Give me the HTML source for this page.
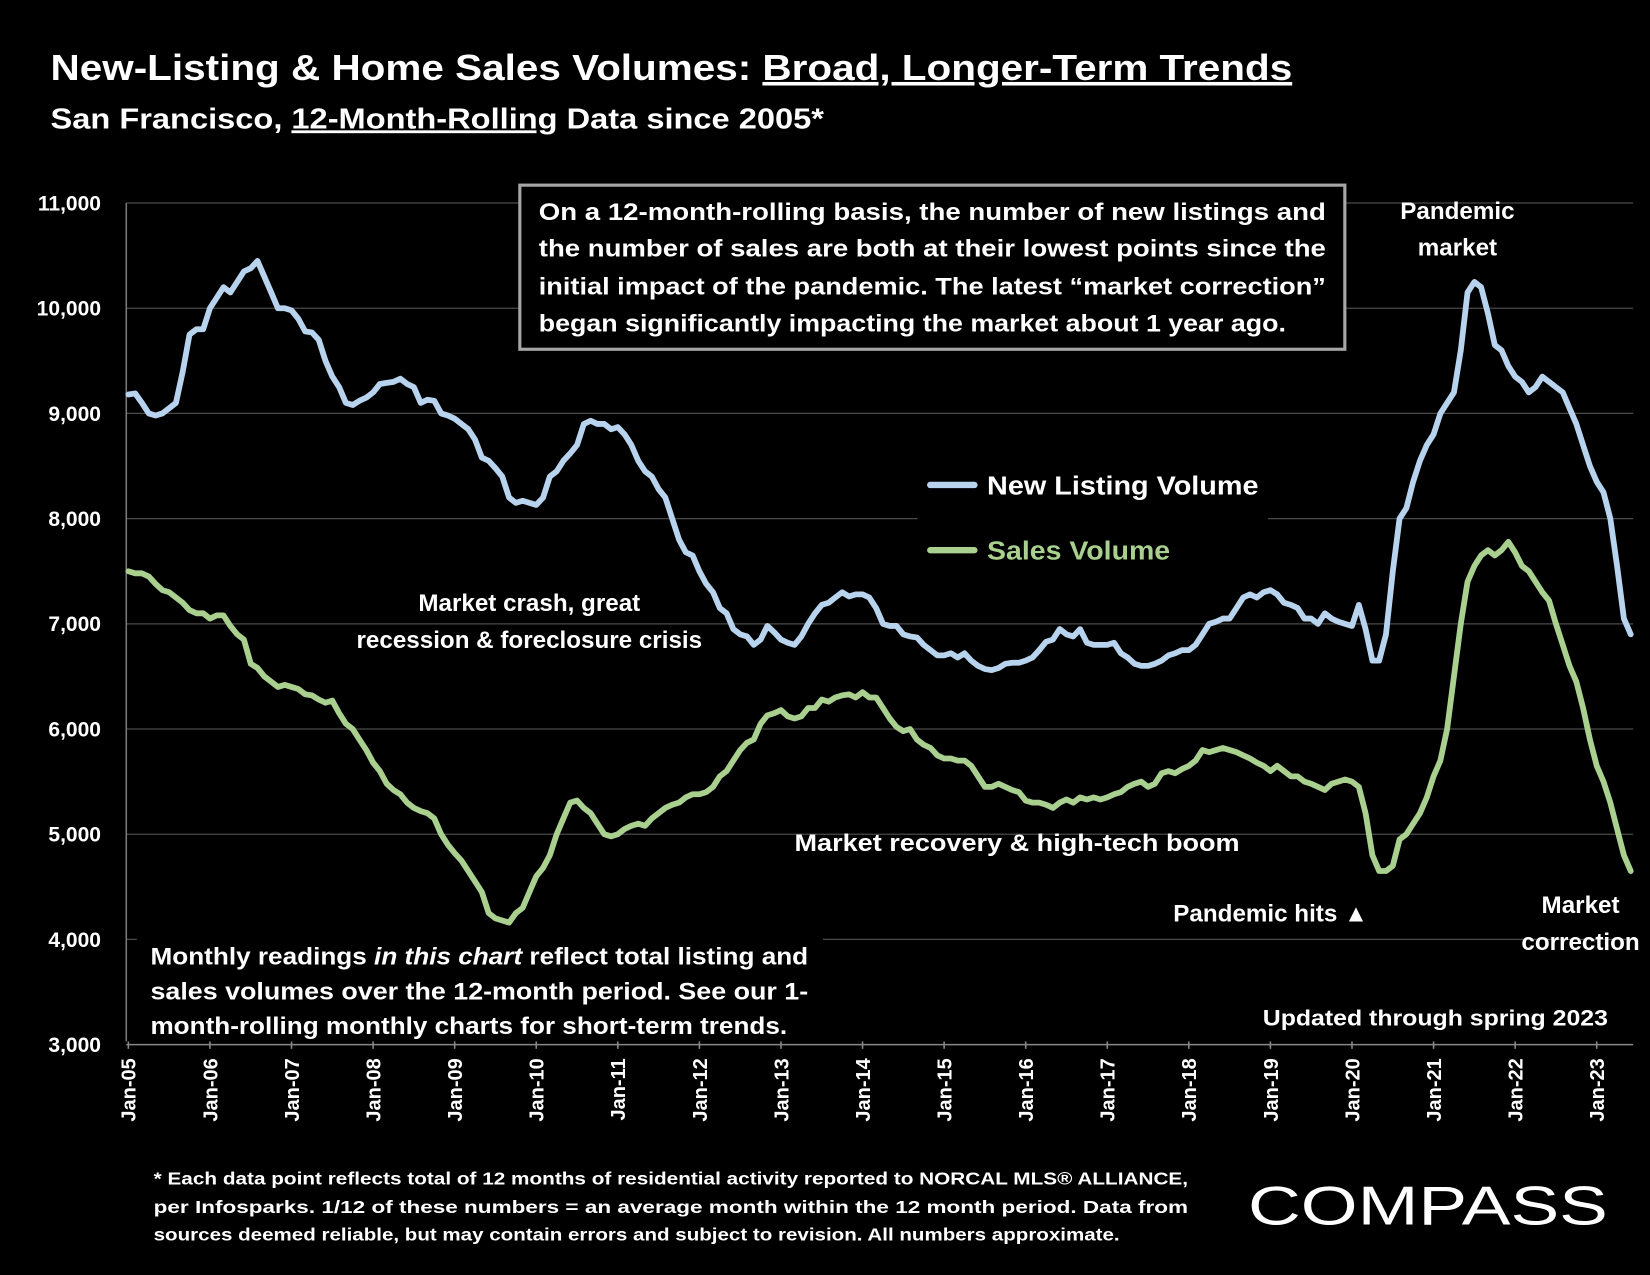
<!DOCTYPE html>
<html><head><meta charset="utf-8">
<style>
html,body{margin:0;padding:0;background:#000;}
svg{display:block;}
text{font-family:"Liberation Sans",sans-serif;font-weight:bold;fill:#fff;}
</style></head>
<body>
<svg id="chart" width="1650" height="1275" viewBox="0 0 1568 1212" preserveAspectRatio="none">
<rect x="0" y="0" width="1568" height="1212" fill="#000"/>
<text x="48" y="76" font-size="34" textLength="1180" lengthAdjust="spacingAndGlyphs">New-Listing &amp; Home Sales Volumes: <tspan text-decoration="underline">Broad, Longer-Term Trends</tspan></text>
<text x="48" y="122" font-size="27" textLength="735" lengthAdjust="spacingAndGlyphs">San Francisco, <tspan text-decoration="underline">12-Month-Rolling</tspan> Data since 2005*</text>
<g id="grid"></g>
<g id="yticks"></g>
<g id="xticks"></g>
<g id="series"></g>

<g>
<rect x="494" y="176" width="784" height="156" fill="#000" stroke="#a6a6a6" stroke-width="3"/>
<text x="512" y="209" font-size="23" textLength="748" lengthAdjust="spacingAndGlyphs">On a 12-month-rolling basis, the number of new listings and</text>
<text x="512" y="244" font-size="23" textLength="748" lengthAdjust="spacingAndGlyphs">the number of sales are both at their lowest points since the</text>
<text x="512" y="280" font-size="23" textLength="748" lengthAdjust="spacingAndGlyphs">initial impact of the pandemic. The latest “market correction”</text>
<text x="512" y="315" font-size="23" textLength="710" lengthAdjust="spacingAndGlyphs">began significantly impacting the market about 1 year ago.</text>
</g>
<text x="1385" y="208" font-size="23" text-anchor="middle">Pandemic</text>
<text x="1385" y="243" font-size="23" text-anchor="middle">market</text>

<g>
<rect x="872" y="436" width="333" height="120" fill="#000"/>
<line x1="884" y1="461" x2="926" y2="461" stroke="#b8d3ee" stroke-width="6" stroke-linecap="round"/>
<text x="938" y="470" font-size="25" fill="#eef1f8" textLength="258" lengthAdjust="spacingAndGlyphs">New Listing Volume</text>
<line x1="884" y1="523" x2="926" y2="523" stroke="#a9d08e" stroke-width="6" stroke-linecap="round"/>
<text x="938" y="532" font-size="25" style="fill:#a9d08e" textLength="174" lengthAdjust="spacingAndGlyphs">Sales Volume</text>
</g>

<text x="503" y="581" font-size="23" text-anchor="middle">Market crash,  great</text>
<text x="503" y="616" font-size="23" text-anchor="middle">recession &amp; foreclosure crisis</text>
<text x="755" y="809" font-size="23" textLength="423" lengthAdjust="spacingAndGlyphs">Market recovery &amp; high-tech boom</text>
<text x="1115" y="876" font-size="23">Pandemic hits ▲</text>
<text x="1502" y="868" font-size="23" text-anchor="middle">Market</text>
<text x="1502" y="903" font-size="23" text-anchor="middle">correction</text>

<g>
<rect x="130" y="890" width="652" height="99" fill="#000"/>
<text x="143" y="917" font-size="22.5" textLength="625" lengthAdjust="spacingAndGlyphs">Monthly readings <tspan font-style="italic">in this chart</tspan> reflect total listing and</text>
<text x="143" y="950" font-size="22.5" textLength="625" lengthAdjust="spacingAndGlyphs">sales volumes over the 12-month period. See our 1-</text>
<text x="143" y="983" font-size="22.5" textLength="605" lengthAdjust="spacingAndGlyphs">month-rolling monthly charts for short-term trends.</text>
</g>
<text x="1200" y="975" font-size="21" textLength="328" lengthAdjust="spacingAndGlyphs">Updated through spring 2023</text>

<g>
<text x="146" y="1126" font-size="17" textLength="983" lengthAdjust="spacingAndGlyphs">* Each data point reflects total of 12 months of residential activity reported to NORCAL MLS® ALLIANCE,</text>
<text x="146" y="1153" font-size="17" textLength="983" lengthAdjust="spacingAndGlyphs">per Infosparks. 1/12 of these numbers = an average month within the 12 month period. Data from</text>
<text x="146" y="1179" font-size="17" textLength="918" lengthAdjust="spacingAndGlyphs">sources deemed reliable, but may contain errors and subject to revision. All numbers approximate.</text>
</g>
<text x="1186" y="1164" font-size="52" style="font-weight:normal" textLength="342" lengthAdjust="spacingAndGlyphs">COMPASS</text>
</svg>
<script>
const yTicks = [3000,4000,5000,6000,7000,8000,9000,10000,11000];
const xTickLabels = ["Jan-05","Jan-06","Jan-07","Jan-08","Jan-09","Jan-10","Jan-11","Jan-12","Jan-13","Jan-14","Jan-15","Jan-16","Jan-17","Jan-18","Jan-19","Jan-20","Jan-21","Jan-22","Jan-23"];
const newListings = [
9180,9190,9100,9000,8980,9000,9050,9100,9400,9750,9800,9800,
10000,10100,10200,10150,10250,10350,10380,10450,10300,10150,10000,10000,
9980,9900,9780,9770,9700,9500,9350,9250,9100,9080,9120,9150,
9200,9280,9290,9300,9330,9280,9250,9100,9130,9120,9000,8980,
8950,8900,8850,8750,8580,8550,8480,8400,8200,8150,8170,8150,
8130,8200,8400,8450,8550,8620,8700,8900,8930,8900,8900,8850,
8870,8800,8700,8550,8450,8400,8280,8200,8000,7800,7680,7650,
7500,7380,7300,7150,7100,6950,6900,6880,6800,6850,6980,6920,
6850,6820,6800,6880,7000,7100,7180,7200,7250,7300,7260,7280,
7280,7250,7150,7000,6980,6980,6900,6880,6870,6800,6750,6700,
6700,6720,6680,6720,6650,6600,6570,6560,6580,6620,6630,6630,
6650,6680,6750,6830,6850,6950,6900,6880,6950,6820,6800,6800,
6800,6820,6720,6680,6620,6600,6600,6620,6650,6700,6720,6750,
6750,6800,6900,7000,7020,7050,7050,7150,7250,7280,7250,7300,
7320,7280,7200,7180,7150,7050,7050,7000,7100,7050,7020,7000,
6980,7180,6950,6650,6650,6900,7500,8000,8100,8350,8550,8700,
8800,9000,9100,9200,9600,10150,10250,10200,9950,9650,9600,9450,
9350,9300,9200,9250,9350,9300,9250,9200,9050,8900,8700,8500,
8350,8250,8000,7550,7050,6900];
const salesVolume = [
7500,7480,7480,7450,7380,7320,7300,7250,7200,7130,7100,7100,
7050,7080,7080,6980,6900,6850,6620,6580,6500,6450,6400,6420,
6400,6380,6330,6320,6280,6250,6270,6150,6050,6000,5900,5800,
5680,5600,5480,5420,5380,5300,5250,5220,5200,5150,5000,4900,
4820,4750,4650,4550,4450,4250,4200,4180,4160,4250,4300,4450,
4600,4680,4800,5000,5150,5300,5320,5250,5200,5100,5000,4980,
5000,5050,5080,5100,5080,5150,5200,5250,5280,5300,5350,5380,
5380,5400,5450,5550,5600,5700,5800,5870,5900,6050,6130,6150,
6180,6120,6100,6120,6200,6200,6280,6260,6300,6320,6330,6300,
6350,6300,6300,6200,6100,6020,5980,6000,5900,5850,5820,5750,
5720,5720,5700,5700,5650,5550,5450,5450,5480,5450,5420,5400,
5320,5300,5300,5280,5250,5300,5330,5300,5350,5330,5350,5330,
5350,5380,5400,5450,5480,5500,5450,5480,5580,5600,5580,5620,
5650,5700,5800,5780,5800,5820,5800,5780,5750,5720,5680,5650,
5600,5650,5600,5550,5550,5500,5480,5450,5420,5480,5500,5520,
5500,5450,5200,4800,4650,4650,4700,4950,5000,5100,5200,5350,
5550,5700,6000,6500,7000,7400,7550,7650,7700,7650,7700,7780,
7680,7550,7500,7400,7300,7220,7000,6800,6600,6450,6200,5900,
5650,5500,5300,5050,4800,4650];

const NS = "http://www.w3.org/2000/svg";
const X0 = 122, PER_MONTH = 6.46, Y_TOP = 193, Y_MAX = 11000, PX_PER_UNIT = 0.1;
function xScale(i){ return X0 + i*PER_MONTH; }
function yScale(v){ return Y_TOP + (Y_MAX - v)*PX_PER_UNIT; }
function mk(tag, attrs){ const e=document.createElementNS(NS,tag); for(const k in attrs) e.setAttribute(k,attrs[k]); return e; }

const grid=document.getElementById('grid');
yTicks.forEach(v=>{
  const y=yScale(v);
  if(v>3000){
    const l=mk('line',{x1:120,x2:1552,y1:y,y2:y,stroke:'#4a4a4a','stroke-width':1.2});
    
    
    grid.appendChild(l);
  }
  const t=mk('text',{x:96,y:y+7,'font-size':20,'text-anchor':'end'});
  t.textContent=v.toLocaleString('en-US');
  
  
  document.getElementById('yticks').appendChild(t);
});
const yAxis=mk('line',{x1:120,x2:120,y1:193,y2:990,stroke:'#777','stroke-width':1.5});


grid.appendChild(yAxis);
const xAxis=mk('line',{x1:120,x2:1552,y1:yScale(3000),y2:yScale(3000),stroke:'#888','stroke-width':1.5});


grid.appendChild(xAxis);

const xt=document.getElementById('xticks');
xTickLabels.forEach((lab,k)=>{
  const x=xScale(k*12);
  const tk=mk('line',{x1:x,x2:x,y1:990,y2:997,stroke:'#888','stroke-width':1.5});
  
  
  xt.appendChild(tk);
  const t=mk('text',{x:0,y:0,'font-size':19,'text-anchor':'end',transform:`translate(${x+7},1006) rotate(-90)`});
  t.textContent=lab;
  
  
  xt.appendChild(t);
});

function drawLine(arr,color,name){
  const d=arr.map((v,i)=>(i?'L':'M')+xScale(i).toFixed(1)+','+yScale(v).toFixed(1)).join(' ');
  const p=mk('path',{d:d,fill:'none',stroke:color,'stroke-width':5.5,'stroke-linejoin':'round','stroke-linecap':'round'});
  
  
  document.getElementById('series').appendChild(p);
}
drawLine(salesVolume,'#a9d08e','sales-volume-line');
drawLine(newListings,'#b8d3ee','new-listing-volume-line');
</script>
</body></html>
